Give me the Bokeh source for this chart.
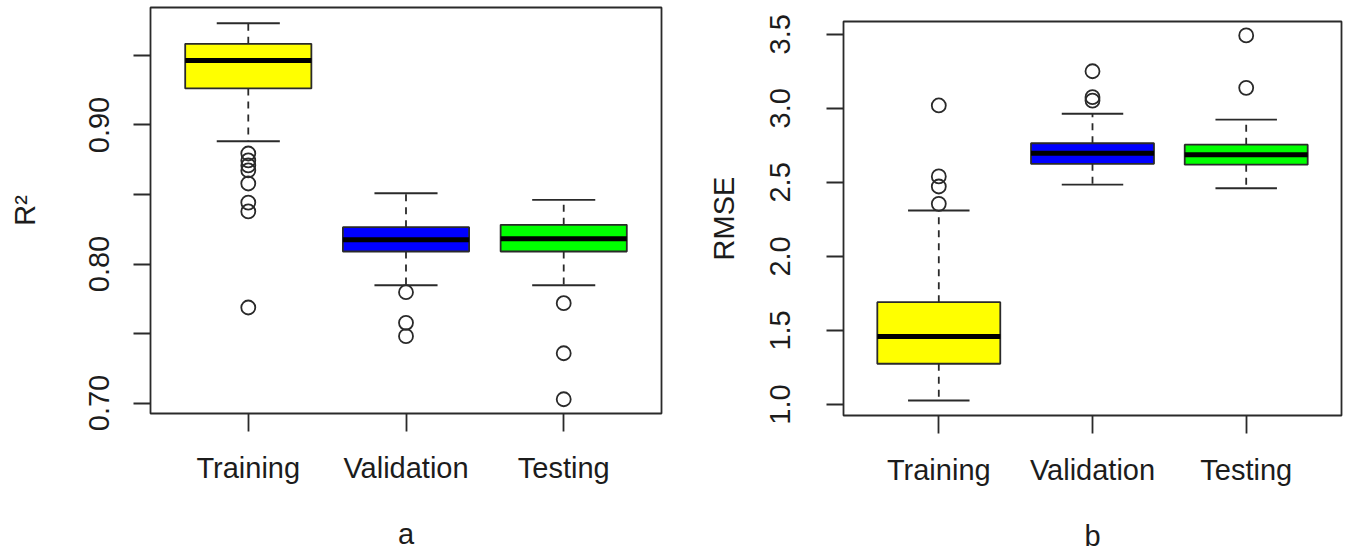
import math
from bokeh.plotting import figure
from bokeh.layouts import row, column
from bokeh.models import Range1d, FixedTicker, PrintfTickFormatter, ColumnDataSource
from bokeh.embed import file_html
from bokeh.resources import INLINE

# ---------------- data ----------------
categories = ["Training", "Validation", "Testing"]
box_colors = ["#FFFF00", "#0000FF", "#00FF00"]

# panel a : R^2
r2_lower_whisker = [0.8883, 0.7847, 0.7847]
r2_q1 = [0.9263, 0.8090, 0.8090]
r2_median = [0.9464, 0.8174, 0.8181]
r2_q3 = [0.9584, 0.8265, 0.8282]
r2_upper_whisker = [0.9732, 0.8509, 0.8462]
r2_outliers_training = [0.8795, 0.8745, 0.8709, 0.8673, 0.8579, 0.8442, 0.8378, 0.7687]
r2_outliers_validation = [0.7797, 0.7577, 0.7481]
r2_outliers_testing = [0.7718, 0.7358, 0.7027]
r2_major_ticks = [0.70, 0.80, 0.90]
r2_minor_ticks = [0.75, 0.85, 0.95]

# panel b : RMSE
rmse_lower_whisker = [1.027, 2.485, 2.460]
rmse_q1 = [1.275, 2.625, 2.619]
rmse_median = [1.459, 2.697, 2.686]
rmse_q3 = [1.691, 2.764, 2.754]
rmse_upper_whisker = [2.310, 2.963, 2.924]
rmse_outliers_training = [2.355, 2.472, 2.540, 3.019]
rmse_outliers_validation = [3.052, 3.075, 3.250]
rmse_outliers_testing = [3.138, 3.492]
rmse_major_ticks = [1.0, 1.5, 2.0, 2.5, 3.0, 3.5]

FONT = "Liberation Sans"
TXT = "#1c1c1c"
LINE = "#2a2a2a"
FS = "29px"
LW = 1.8


def panel(lw, q1, med, q3, uw, outliers, y0, y1, major, minor, fmt, ylabel, xlabel,
          frame_w, frame_h, b_left, b_top, b_right, b_bottom, ylab_standoff, ytitle_standoff):
    p = figure(output_backend="svg", toolbar_location=None, title=None,
               frame_width=frame_w, frame_height=frame_h,
               x_range=Range1d(0.38, 3.62), y_range=Range1d(y0, y1),
               min_border_left=b_left, min_border_top=b_top,
               min_border_right=b_right, min_border_bottom=b_bottom)
    p.xgrid.visible = False
    p.ygrid.visible = False
    p.outline_line_color = LINE
    p.outline_line_width = LW
    p.background_fill_color = "white"
    p.border_fill_color = "white"

    xs = [i + 1 for i in range(len(categories))]
    src = ColumnDataSource(dict(
        x=xs, lw=lw, q1=q1, med=med, q3=q3, uw=uw,
        xl=[x - 0.4 for x in xs], xr=[x + 0.4 for x in xs],
        cl=[x - 0.2 for x in xs], cr=[x + 0.2 for x in xs],
        color=box_colors))

    # dashed whiskers
    p.segment(x0="x", y0="q3", x1="x", y1="uw", source=src, line_color=LINE,
              line_width=LW, line_dash="7 6")
    p.segment(x0="x", y0="q1", x1="x", y1="lw", source=src, line_color=LINE,
              line_width=LW, line_dash="7 6")
    # boxes
    p.vbar(x="x", width=0.8, bottom="q1", top="q3", source=src, fill_color="color",
           line_color=LINE, line_width=LW)
    # medians
    p.segment(x0="xl", y0="med", x1="xr", y1="med", source=src, line_color="black",
              line_width=5)
    # whisker caps
    p.segment(x0="cl", y0="uw", x1="cr", y1="uw", source=src, line_color=LINE, line_width=LW)
    p.segment(x0="cl", y0="lw", x1="cr", y1="lw", source=src, line_color=LINE, line_width=LW)
    # outliers
    ox, oy = [], []
    for i, vals in enumerate(outliers):
        for v in vals:
            ox.append(i + 1)
            oy.append(v)
    p.scatter(x=ox, y=oy, marker="circle", size=14, fill_color=None,
              line_color=LINE, line_width=LW)

    # x axis
    xa = p.xaxis[0]
    xa.ticker = FixedTicker(ticks=xs)
    xa.major_label_overrides = {x: c for x, c in zip(xs, categories)}
    xa.axis_label = xlabel
    xa.minor_tick_line_color = None
    xa.major_tick_out = 18
    xa.major_tick_in = 0
    xa.major_tick_line_color = LINE
    xa.major_tick_line_width = LW
    xa.axis_line_color = None
    xa.major_label_standoff = 20
    xa.axis_label_standoff = 31
    xa.major_label_text_font = FONT
    xa.major_label_text_font_size = FS
    xa.major_label_text_color = TXT
    xa.axis_label_text_font = FONT
    xa.axis_label_text_font_size = FS
    xa.axis_label_text_font_style = "normal"
    xa.axis_label_text_color = TXT

    # y axis
    ya = p.yaxis[0]
    ya.ticker = FixedTicker(ticks=major, minor_ticks=minor)
    ya.formatter = PrintfTickFormatter(format=fmt)
    ya.axis_label = ylabel
    ya.major_tick_out = 17
    ya.major_tick_in = 0
    ya.minor_tick_out = 17
    ya.minor_tick_in = 0
    ya.major_tick_line_color = LINE
    ya.minor_tick_line_color = LINE
    ya.major_tick_line_width = LW
    ya.minor_tick_line_width = LW
    ya.axis_line_color = None
    ya.major_label_orientation = "vertical"
    ya.major_label_standoff = ylab_standoff
    ya.axis_label_standoff = ytitle_standoff
    ya.major_label_text_font = FONT
    ya.major_label_text_font_size = FS
    ya.major_label_text_color = TXT
    ya.axis_label_text_font = FONT
    ya.axis_label_text_font_size = FS
    ya.axis_label_text_font_style = "normal"
    ya.axis_label_text_color = TXT
    return p


p1 = panel(r2_lower_whisker, r2_q1, r2_median, r2_q3, r2_upper_whisker,
           [r2_outliers_training, r2_outliers_validation, r2_outliers_testing],
           0.69245, 0.98453, r2_major_ticks, r2_minor_ticks, "%.2f", "R²", "a",
           511, 406, 150, 7, 19, 138, 24, 46)

p2 = panel(rmse_lower_whisker, rmse_q1, rmse_median, rmse_q3, rmse_upper_whisker,
           [rmse_outliers_training, rmse_outliers_validation, rmse_outliers_testing],
           0.9257, 3.586, rmse_major_ticks, [], "%.1f", "RMSE", "b",
           498, 394, 163, 21, 4, 138, 36, 28)

layout = row(column(p1), column(p2))
open("out.html", "w").write(file_html(layout, INLINE))
